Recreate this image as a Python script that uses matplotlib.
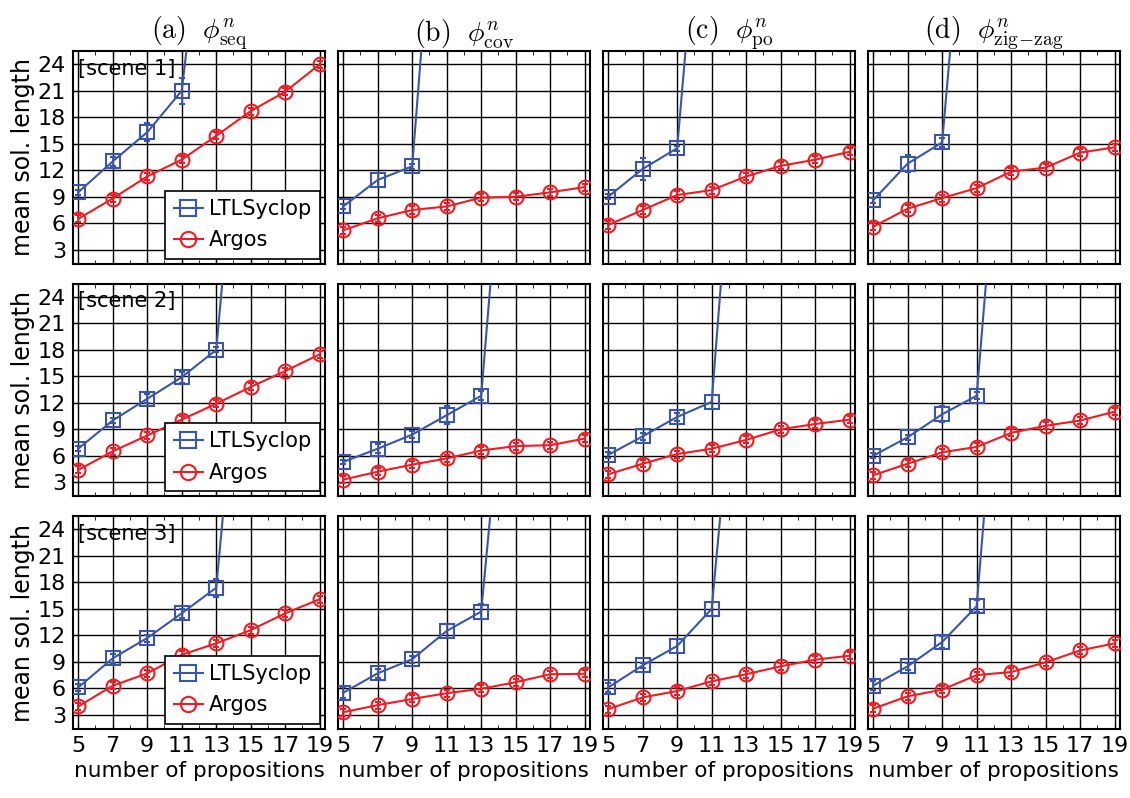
import matplotlib
matplotlib.use('Agg')
import matplotlib.pyplot as plt
from matplotlib.lines import Line2D

plt.rcParams['font.family'] = ['DejaVu Sans']
plt.rcParams['mathtext.fontset'] = 'cm'

props = [5, 7, 9, 11, 13, 15, 17, 19]
titles = [r'$\mathrm{(a)}\ \ \phi^{n}_{\mathrm{seq}}$',
          r'$\mathrm{(b)}\ \ \phi^{n}_{\mathrm{cov}}$',
          r'$\mathrm{(c)}\ \ \phi^{n}_{\mathrm{po}}$',
          r'$\mathrm{(d)}\ \ \phi^{n}_{\mathrm{zig}\!-\!\mathrm{zag}}$']
scenes = ['[scene 1]', '[scene 2]', '[scene 3]']

# LTLSyclop (last value of each list is the timeout point, off the chart)
ltl_s1 = [[9.5, 13.0, 16.3, 21.0, 54], [7.9, 10.9, 12.45, 62],
          [9.0, 12.15, 14.5, 60], [8.6, 12.75, 15.15, 60]]
ltl_s2 = [[6.8, 10.0, 12.45, 14.9, 18.0, 61], [5.3, 6.8, 8.4, 10.6, 12.8, 60],
          [6.1, 8.2, 10.4, 12.1, 62], [6.0, 8.1, 10.7, 12.8, 60]]
ltl_s3 = [[6.1, 9.4, 11.7, 14.5, 17.4, 59], [5.5, 7.7, 9.3, 12.5, 14.7, 56],
          [6.1, 8.6, 10.8, 15.0, 57], [6.3, 8.5, 11.25, 15.3, 63]]
ltl_err_s1 = [[0.3, 0.5, 1.0, 1.5, 0], [0.3, 0.8, 0.3, 0],
              [0.3, 1.2, 0.3, 0], [0.3, 1.0, 0.5, 0]]
ltl_err_s2 = [[0.3, 0.3, 0.5, 0.6, 0.3, 0], [0.2, 0.5, 0.4, 1.0, 0.5, 0],
              [0.3, 0.4, 0.5, 0.8, 0], [0.3, 0.3, 0.9, 0.4, 0]]
ltl_err_s3 = [[0.4, 0.5, 0.4, 0.5, 1.0, 0], [0.6, 0.5, 0.4, 0.8, 0.8, 0],
              [0.5, 0.3, 0.8, 0.8, 0], [0.5, 0.4, 0.7, 0.7, 0]]

# Argos
argos_s1 = [[6.5, 8.8, 11.3, 13.2, 15.9, 18.7, 20.9, 24.0],
            [5.2, 6.56, 7.5, 7.9, 8.9, 9.0, 9.5, 10.1],
            [5.8, 7.5, 9.2, 9.75, 11.3, 12.5, 13.2, 14.1],
            [5.6, 7.65, 8.85, 9.98, 11.85, 12.3, 14.0, 14.6]]
argos_s2 = [[4.4, 6.5, 8.3, 10.1, 11.9, 13.8, 15.6, 17.5],
            [3.3, 4.2, 5.0, 5.7, 6.6, 7.1, 7.2, 7.95],
            [3.9, 5.1, 6.2, 6.8, 7.8, 9.0, 9.6, 10.1],
            [3.8, 5.1, 6.4, 7.0, 8.6, 9.4, 10.0, 11.0]]
argos_s3 = [[3.95, 6.3, 7.7, 9.8, 11.1, 12.6, 14.5, 16.1],
            [3.3, 4.1, 4.8, 5.45, 5.95, 6.7, 7.6, 7.65],
            [3.65, 4.97, 5.7, 6.8, 7.6, 8.5, 9.25, 9.7],
            [3.7, 5.1, 5.85, 7.5, 7.85, 8.95, 10.3, 11.1]]
argos_err = 0.4

ltl_all = [ltl_s1, ltl_s2, ltl_s3]
ltl_err_all = [ltl_err_s1, ltl_err_s2, ltl_err_s3]
argos_all = [argos_s1, argos_s2, argos_s3]

blue = '#3a56a5'
red = '#ee1c24'

fig, axes = plt.subplots(3, 4, figsize=(11.3, 7.98), dpi=100)
plt.subplots_adjust(left=0.0646, right=0.991, top=0.936, bottom=0.0865,
                    wspace=0.052, hspace=0.093)

handles = [Line2D([], [], color=blue, marker='s', ms=11, mfc='none', mew=1.5, lw=1.5),
           Line2D([], [], color=red, marker='o', ms=11, mfc='none', mew=1.5, lw=1.5)]

for r in range(3):
    for c in range(4):
        ax = axes[r][c]
        ax.set_axisbelow(True)
        ltl = ltl_all[r][c]
        arg = argos_all[r][c]
        ax.errorbar(props[:len(ltl)], ltl, yerr=ltl_err_all[r][c], color=blue,
                    marker='s', ms=10, mfc='none', mew=1.5, lw=1.5,
                    capsize=2.5, elinewidth=1.2, zorder=3)
        ax.errorbar(props, arg, yerr=argos_err, color=red,
                    marker='o', ms=10, mfc='none', mew=1.5, lw=1.5,
                    capsize=2.5, elinewidth=1.2, zorder=3)
        ax.set_xlim(4.7, 19.3)
        ax.set_ylim(1.4, 25.5)
        ax.set_xticks(props)
        ax.set_yticks([3, 6, 9, 12, 15, 18, 21, 24])
        ax.set_xticks([6, 8, 10, 12, 14, 16, 18], minor=True)
        ax.grid(True, which='major', color='black', lw=1.0)
        ax.tick_params(direction='in', top=True, right=True, length=4,
                       labelsize=16, pad=5)
        ax.tick_params(which='minor', direction='in', top=True, length=3)
        for s in ax.spines.values():
            s.set_linewidth(1.5)
        if c == 0:
            ax.set_ylabel('mean sol. length', fontsize=17, labelpad=2)
            ax.text(0.02, 0.965, scenes[r], transform=ax.transAxes,
                    fontsize=15, va='top', ha='left')
            leg = ax.legend(handles, ['LTLSyclop', 'Argos'], loc='lower right',
                            fontsize=15, frameon=True, fancybox=False,
                            framealpha=1, edgecolor='black', handlelength=1.4,
                            borderaxespad=0.25, labelspacing=0.55,
                            borderpad=0.4, handletextpad=0.3)
            leg.get_frame().set_linewidth(1.2)
        else:
            ax.set_yticklabels([])
        if r == 2:
            ax.set_xlabel('number of propositions', fontsize=15.5, labelpad=4)
        else:
            ax.set_xticklabels([])
        if r == 0:
            ax.set_title(titles[c], fontsize=20, pad=6)

plt.savefig('out.png', dpi=100)
